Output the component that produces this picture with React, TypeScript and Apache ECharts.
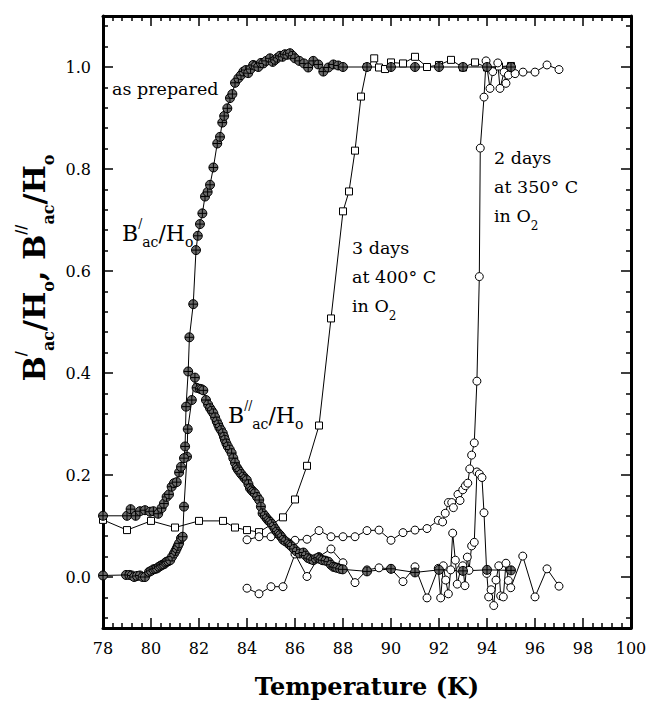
import React, { useEffect, useRef } from 'react';
import * as echarts from 'echarts';

// B'ac/Ho, as prepared sample (T in K, value)
const preparedReal: [number, number][] = [
  [78.0, 0.120], [79.0, 0.120], [79.15, 0.133], [79.36, 0.120], [79.54, 0.129], [79.75, 0.131],
  [79.96, 0.128], [80.1, 0.129], [80.3, 0.124], [80.44, 0.135], [80.54, 0.144], [80.65, 0.157],
  [80.75, 0.162], [80.86, 0.177], [80.96, 0.184], [81.07, 0.186], [81.17, 0.205], [81.25, 0.216],
  [81.375, 0.233], [81.42, 0.256], [81.46, 0.334], [81.55, 0.403], [81.6, 0.470], [81.76, 0.535],
  [81.875, 0.641], [81.95, 0.669], [82.04, 0.692], [82.14, 0.713], [82.25, 0.746], [82.36, 0.755],
  [82.46, 0.769], [82.6, 0.803], [82.76, 0.850], [82.875, 0.863], [82.97, 0.891], [83.05, 0.904],
  [83.18, 0.919], [83.29, 0.939], [83.39, 0.947], [83.5, 0.969], [83.64, 0.978], [83.75, 0.984],
  [83.85, 0.991], [83.95, 0.994], [84.05, 0.988], [84.15, 0.996], [84.26, 1.004], [84.36, 1.002],
  [84.47, 1.000], [84.58, 1.008], [84.68, 1.007], [84.8, 1.012], [84.96, 1.017], [85.07, 1.010],
  [85.17, 1.014], [85.27, 1.018], [85.375, 1.022], [85.48, 1.020], [85.58, 1.025], [85.68, 1.024],
  [85.79, 1.027], [85.9, 1.022], [86.0, 1.017], [86.18, 1.012], [86.375, 1.007], [86.55, 0.999],
  [86.76, 1.012], [86.97, 1.005], [87.18, 0.991], [87.39, 0.999], [87.6, 1.005], [87.8, 1.003],
  [88.0, 1.000], [89.0, 1.000], [90.0, 1.000], [91.0, 1.000], [92.0, 1.000], [93.0, 1.000],
  [94.0, 1.000], [95.0, 1.000],
];

// B''ac/Ho, as prepared sample
const preparedImag: [number, number][] = [
  [78.0, 0.003], [78.96, 0.004], [79.1, 0.004], [79.2, 0.003], [79.3, 0.0], [79.42, 0.002],
  [79.54, 0.003], [79.65, 0.0], [79.75, 0.0], [79.92, 0.010], [80.0, 0.012], [80.1, 0.015],
  [80.18, 0.016], [80.25, 0.017], [80.33, 0.020], [80.4, 0.022], [80.47, 0.024], [80.54, 0.025],
  [80.6, 0.028], [80.65, 0.030], [80.72, 0.031], [80.8, 0.033], [80.88, 0.040], [80.96, 0.046],
  [81.02, 0.051], [81.07, 0.056], [81.12, 0.061], [81.17, 0.066], [81.25, 0.076], [81.32, 0.079],
  [81.375, 0.138], [81.5, 0.236], [81.53, 0.290], [81.7, 0.347], [81.83, 0.391], [81.9, 0.371],
  [82.04, 0.369], [82.11, 0.368], [82.18, 0.366], [82.29, 0.347], [82.38, 0.338], [82.46, 0.331],
  [82.53, 0.326], [82.6, 0.321], [82.67, 0.313], [82.74, 0.305], [82.8, 0.299], [82.85, 0.293],
  [82.92, 0.288], [82.99, 0.282], [83.04, 0.275], [83.08, 0.269], [83.14, 0.262], [83.2, 0.256],
  [83.28, 0.250], [83.36, 0.243], [83.43, 0.233], [83.5, 0.224], [83.57, 0.215], [83.62, 0.211],
  [83.68, 0.207], [83.76, 0.202], [83.85, 0.197], [83.92, 0.193], [83.99, 0.190], [84.06, 0.182],
  [84.125, 0.174], [84.2, 0.170], [84.26, 0.167], [84.33, 0.164], [84.42, 0.157], [84.51, 0.151],
  [84.58, 0.138], [84.65, 0.125], [84.74, 0.120], [84.82, 0.115], [84.89, 0.111], [84.96, 0.108],
  [85.03, 0.104], [85.1, 0.099], [85.17, 0.094], [85.24, 0.089], [85.31, 0.085], [85.375, 0.082],
  [85.44, 0.078], [85.51, 0.073], [85.6, 0.070], [85.72, 0.066], [85.79, 0.063], [85.86, 0.060],
  [85.96, 0.055], [86.07, 0.050], [86.2, 0.046], [86.35, 0.048], [86.45, 0.042], [86.55, 0.037],
  [86.65, 0.035], [86.76, 0.033], [86.87, 0.036], [86.97, 0.038], [87.06, 0.035], [87.15, 0.033],
  [87.27, 0.032], [87.39, 0.030], [87.5, 0.024], [87.6, 0.020], [87.68, 0.019], [87.76, 0.018],
  [87.88, 0.016], [87.99, 0.015], [89.0, 0.011], [90.0, 0.016], [91.0, 0.009], [92.0, 0.014],
  [93.0, 0.012], [94.0, 0.014], [95.0, 0.013],
];

// B'ac/Ho after 3 days at 400 C in O2 (squares)
const anneal400Real: [number, number][] = [
  [78, 0.112], [79, 0.092], [80, 0.110], [81, 0.097], [82, 0.110], [83, 0.110], [83.5, 0.097],
  [84, 0.092], [84.5, 0.088], [85.5, 0.117], [86, 0.152], [86.5, 0.218], [87, 0.297], [87.5, 0.507],
  [88, 0.717], [88.25, 0.756], [88.5, 0.836], [88.75, 0.942], [89, 1.000], [89.3, 1.017],
  [89.5, 0.999], [89.75, 0.996], [90, 1.009], [90.5, 1.007], [91, 1.020], [91.5, 1.000],
  [92, 1.004], [92.5, 1.014], [93, 0.999], [93.5, 1.009], [94, 0.999], [94.5, 1.001], [95, 1.002],
];

// B'ac/Ho after 2 days at 350 C in O2 (open circles)
const anneal350Real: [number, number][] = [
  [84, 0.073], [84.5, 0.079], [85, 0.079], [85.5, 0.075], [86, 0.072], [86.5, 0.074], [87, 0.091],
  [87.5, 0.079], [88, 0.079], [88.5, 0.079], [89, 0.091], [89.5, 0.092], [90, 0.072], [90.5, 0.087],
  [91, 0.092], [91.5, 0.095], [91.97, 0.111], [92.15, 0.108], [92.26, 0.125], [92.39, 0.146],
  [92.53, 0.146], [92.6, 0.136], [92.79, 0.162], [92.875, 0.150], [92.99, 0.171], [93.1, 0.179],
  [93.2, 0.184], [93.28, 0.212], [93.36, 0.239], [93.47, 0.263], [93.58, 0.384], [93.68, 0.589],
  [93.72, 0.841], [93.875, 0.941], [93.96, 1.012], [94.125, 0.958], [94.24, 0.991], [94.45, 1.008],
  [94.54, 0.958], [94.71, 0.990], [94.79, 0.968], [94.89, 0.984], [95.0, 1.000], [95.17, 0.987],
  [95.5, 0.990], [96.0, 0.990], [96.5, 1.004], [97.0, 0.995],
];

// B''ac/Ho after 2 days at 350 C in O2 (open circles)
const anneal350Imag: [number, number][] = [
  [84, -0.022], [84.5, -0.033], [85, -0.019], [85.5, -0.019], [86, 0.045], [86.5, 0.001],
  [87, 0.040], [87.5, 0.055], [88, 0.028], [88.5, -0.011], [89, 0.014], [89.5, 0.018], [90, 0.016],
  [90.5, -0.009], [91, 0.020], [91.5, -0.041], [91.97, 0.017], [92.07, -0.041], [92.18, 0.022],
  [92.28, -0.006], [92.39, -0.033], [92.49, 0.014], [92.57, 0.086], [92.68, 0.033], [92.76, -0.014],
  [92.9, 0.015], [92.99, 0.022], [93.08, -0.017], [93.18, 0.039], [93.25, 0.013], [93.36, 0.061],
  [93.47, 0.068], [93.58, 0.206], [93.68, 0.202], [93.79, 0.195], [93.875, 0.126], [93.99, 0.007],
  [94.07, -0.039], [94.17, -0.025], [94.28, -0.056], [94.375, -0.006], [94.49, 0.022],
  [94.57, -0.037], [94.68, -0.039], [94.79, 0.027], [94.89, -0.007], [94.99, -0.021], [95.49, 0.041],
  [96.0, -0.039], [96.5, 0.016], [97.0, -0.018],
];

const xRange = [78, 100];
const yRange = [-0.1, 1.1];
const xTitle = 'Temperature (K)';
const yTitle = '{b|B}{bp|/}{bs|ac}{b|/H}{bs|o}{b|, B}{bp|//}{bs|ac}{b|/H}{bs|o}';
const labelReal = '{n|B}{p|/}{s|ac}{n|/H}{s|o}';
const labelImag = '{n|B}{p|//}{s|ac}{n|/H}{s|o}';
const labelPrepared = 'as prepared';
const label400 = '{t|3 days}\n{t|at 400° C}\n{t|in O}{ts|2}';
const label350 = '{t|2 days}\n{t|at 350° C}\n{t|in O}{ts|2}';

const FONT = "'DejaVu Serif', serif";

const crossCircle =
  'path://M10,0A10,10,0,1,1,10,20A10,10,0,1,1,10,0ZM0,10L20,10M10,0L10,20';

export default function App() {
  const ref = useRef<HTMLDivElement>(null);

  useEffect(() => {
    if (!ref.current) return;
    const chart = echarts.init(ref.current, null, { renderer: 'svg' });

    const axisLine = { show: true, onZero: false, lineStyle: { color: '#000', width: 3 } };
    const axisTick = { show: true, inside: true, length: 10, lineStyle: { color: '#000', width: 1.5 } };
    const minorTick = { show: true, splitNumber: 5, length: 5, lineStyle: { color: '#000', width: 1.5 } };
    const tickLabel = { fontSize: 16, fontFamily: FONT, color: '#000', margin: 12 };

    const annRich: any = {
      n: { fontSize: 22, fontFamily: FONT, lineHeight: 32, fill: '#000' },
      p: { fontSize: 12, fontFamily: FONT, height: 13, verticalAlign: 'top', fill: '#000' },
      s: { fontSize: 14, fontFamily: FONT, height: 14, verticalAlign: 'bottom', fill: '#000' },
    };
    const blockRich: any = {
      t: { fontSize: 17.5, fontFamily: FONT, lineHeight: 29, fill: '#000' },
      ts: { fontSize: 12, fontFamily: FONT, height: 9, verticalAlign: 'bottom', fill: '#000' },
    };
    const titleRich: any = {
      b: { fontSize: 30, fontWeight: 'bold', fontFamily: FONT, lineHeight: 44, fill: '#000' },
      bp: { fontSize: 14, fontWeight: 'bold', fontFamily: FONT, height: 18, verticalAlign: 'top', fill: '#000' },
      bs: { fontSize: 16, fontWeight: 'bold', fontFamily: FONT, height: 16, verticalAlign: 'bottom', fill: '#000' },
    };

    const lineSeries = (data: [number, number][], symbol: string, size: number, fill: string) => ({
      type: 'line',
      data,
      symbol,
      symbolSize: size,
      showAllSymbol: true,
      lineStyle: { color: '#000', width: 1 },
      itemStyle: { color: fill, borderColor: '#000', borderWidth: 1 },
      emphasis: { disabled: true },
    });

    chart.setOption({
      animation: false,
      backgroundColor: '#fff',
      grid: { left: 103, right: 16, top: 16, bottom: 77, containLabel: false, outerBoundsMode: 'none' },
      xAxis: [
        {
          type: 'value', min: xRange[0], max: xRange[1], interval: 2, position: 'bottom',
          axisLine, axisTick, minorTick, splitLine: { show: false }, minorSplitLine: { show: false },
          axisLabel: tickLabel,
          name: xTitle, nameLocation: 'middle', nameGap: 46,
          nameTextStyle: { fontSize: 24, fontWeight: 'bold', fontFamily: FONT, color: '#000' },
        },
        {
          type: 'value', min: xRange[0], max: xRange[1], interval: 2, position: 'top',
          axisLine, axisTick, minorTick, splitLine: { show: false }, axisLabel: { show: false },
        },
      ],
      yAxis: [
        {
          type: 'value', min: yRange[0], max: yRange[1], position: 'left',
          axisLine, axisTick, minorTick, splitLine: { show: false },
          axisLabel: {
            ...tickLabel, showMinLabel: false, showMaxLabel: false,
            formatter: (v: number) => v.toFixed(1),
          },
        },
        {
          type: 'value', min: yRange[0], max: yRange[1], position: 'right',
          axisLine, axisTick, minorTick, splitLine: { show: false }, axisLabel: { show: false },
        },
      ],
      series: [
        lineSeries(anneal400Real, 'rect', 7, '#fff'),
        lineSeries(anneal350Real, 'circle', 8, '#fff'),
        lineSeries(anneal350Imag, 'circle', 8, '#fff'),
        lineSeries(preparedImag, crossCircle, 9, '#6a6a6a'),
        lineSeries(preparedReal, crossCircle, 9, '#6a6a6a'),
      ],
      graphic: [
        {
          type: 'text', x: 34, y: 268, rotation: Math.PI / 2, z: 100,
          style: { text: yTitle, rich: titleRich, align: 'center', verticalAlign: 'middle', fill: '#000' },
        },
        {
          type: 'text', x: 112, y: 89, z: 100,
          style: { text: labelPrepared, fontSize: 17.5, fontFamily: FONT, fill: '#000', align: 'left', verticalAlign: 'middle' },
        },
        {
          type: 'text', x: 122, y: 233, z: 100,
          style: { text: labelReal, rich: annRich, align: 'left', verticalAlign: 'middle', fill: '#000' },
        },
        {
          type: 'text', x: 228, y: 415, z: 100,
          style: { text: labelImag, rich: annRich, align: 'left', verticalAlign: 'middle', fill: '#000' },
        },
        {
          type: 'text', x: 352, y: 233.5, z: 100,
          style: { text: label400, rich: blockRich, align: 'left', verticalAlign: 'top', fill: '#000' },
        },
        {
          type: 'text', x: 494, y: 143.5, z: 100,
          style: { text: label350, rich: blockRich, align: 'left', verticalAlign: 'top', fill: '#000' },
        },
      ],
    });

    return () => chart.dispose();
  }, []);

  return (
    <div
      ref={ref}
      style={{ position: 'absolute', left: 0, top: 0, width: 647, height: 705, background: '#fff' }}
    />
  );
}
